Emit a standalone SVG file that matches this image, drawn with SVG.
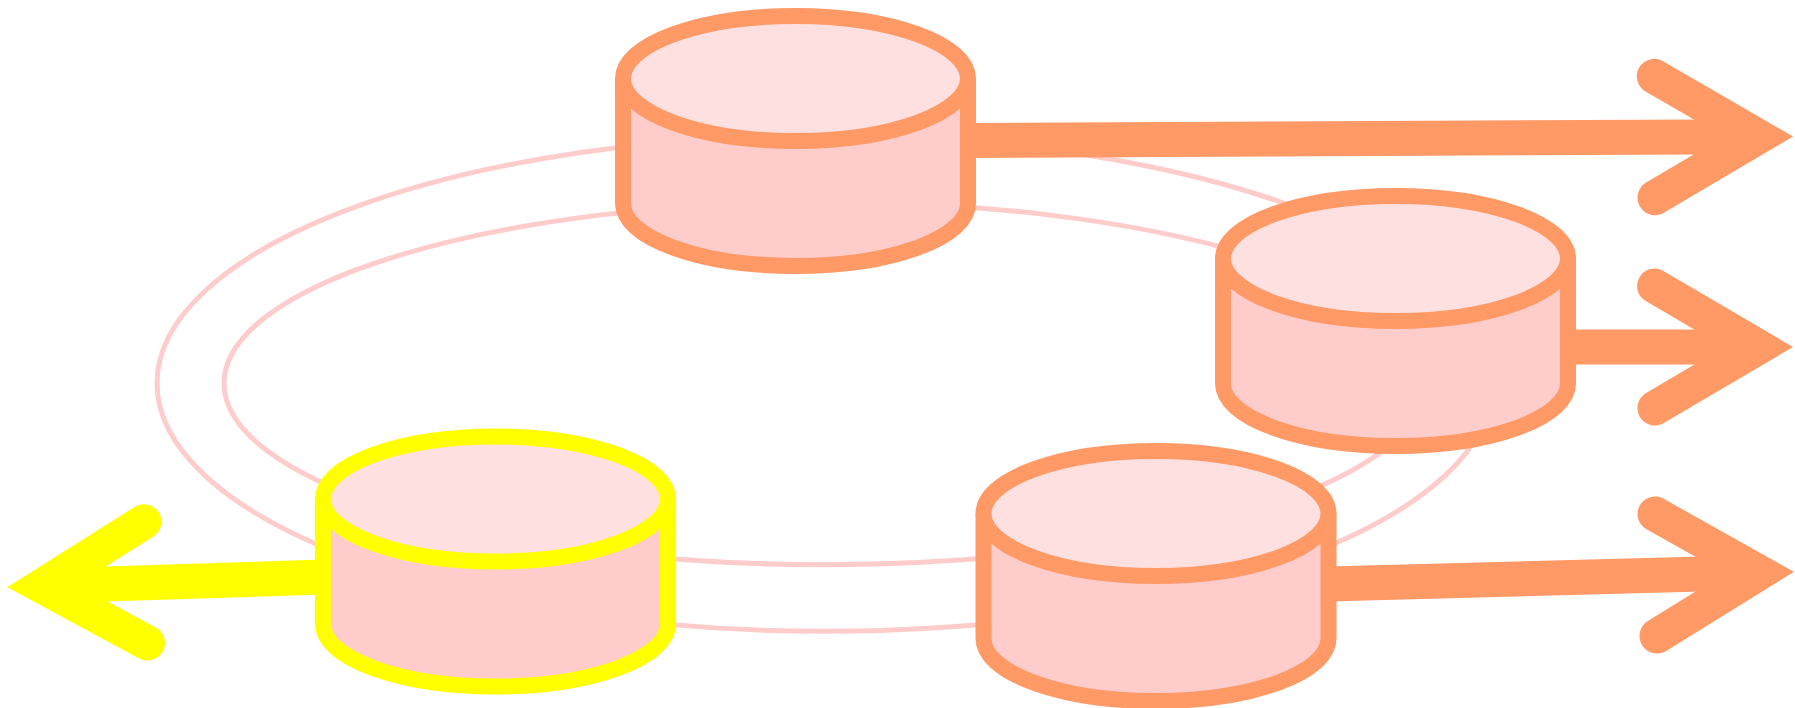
<svg xmlns="http://www.w3.org/2000/svg" width="1795" height="708" viewBox="0 0 1795 708">
  <style>
    .ring { fill: none; stroke: #FFCCCC; stroke-width: 5; }
    .side { fill: #FFCCCC; stroke-width: 16; }
    .top { fill: #FFE0E0; stroke-width: 16; }
    .shaft { fill: none; stroke-width: 35; }
    .head { fill: none; stroke-width: 35; stroke-linecap: round; stroke-linejoin: miter; stroke-miterlimit: 10; }
    .orange { stroke: #FF9966; }
    .yellow { stroke: #FFFF00; }
  </style>
  <rect width="1795" height="708" fill="#FFFFFF"/>
  <g id="rings">
    <ellipse class="ring" cx="825" cy="383.3" rx="668" ry="248"/>
    <ellipse class="ring" cx="825" cy="383.3" rx="601" ry="181.4"/>
  </g>
  <g id="connectors">
    <path class="shaft orange" d="M968 140.5L1758.5 136.7"/>
    <path class="head orange" d="M1654.3 76.3L1758.5 136.7L1655 197.7"/>
    <path class="shaft orange" d="M1568 347H1758.5"/>
    <path class="head orange" d="M1654.6 286L1758.5 347L1655 408"/>
    <path class="shaft orange" d="M1328 584L1759.5 572.6"/>
    <path class="head orange" d="M1655 514L1759.5 572.6L1657 636"/>
    <path class="shaft yellow" d="M323 577L42 586"/>
    <path class="head yellow" d="M144 521.7L42 586L147.5 643"/>
  </g>
  <g id="node-top">
    <path class="side orange" d="M623 78.5V203.5A172.5 62.5 0 0 0 968 203.5V78.5"/>
    <ellipse class="top orange" cx="795.5" cy="78.5" rx="172.5" ry="62.5"/>
  </g>
  <g id="node-right">
    <path class="side orange" d="M1223 258.5V383.5A172.5 62.5 0 0 0 1568 383.5V258.5"/>
    <ellipse class="top orange" cx="1395.5" cy="258.5" rx="172.5" ry="62.5"/>
  </g>
  <g id="node-bottom-right">
    <path class="side orange" d="M983.5 513.5V638.5A172.5 62.5 0 0 0 1328.5 638.5V513.5"/>
    <ellipse class="top orange" cx="1156" cy="513.5" rx="172.5" ry="62.5"/>
  </g>
  <g id="node-left">
    <path class="side yellow" d="M323 499V624A172.5 62.5 0 0 0 668 624V499"/>
    <ellipse class="top yellow" cx="495.5" cy="499" rx="172.5" ry="62.5"/>
  </g>
</svg>
